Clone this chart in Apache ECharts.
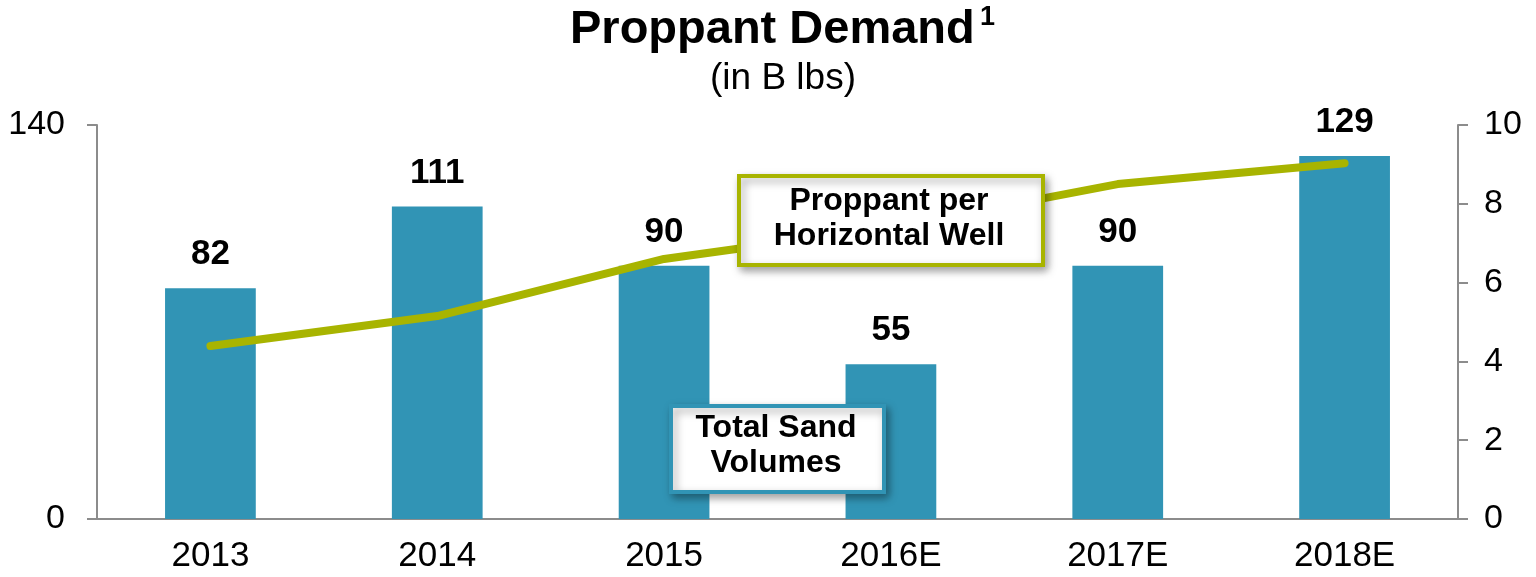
<!DOCTYPE html>
<html><head><meta charset="utf-8">
<script src="https://cdn.jsdelivr.net/npm/echarts@6/dist/echarts.min.js"></script>
<style>html,body{margin:0;padding:0;background:#fff}#c{width:1536px;height:577px}</style>
</head><body><div id="c"></div>
<script>
const categories = ['2013', '2014', '2015', '2016E', '2017E', '2018E'];
const sandVolumes = [82, 111, 90, 55, 90, 129];
const proppantPerWell = [4.39, 5.15, 6.6, 7.4, 8.5, 9.03];
const leftTicks = [0, 140];
const rightTicks = [0, 2, 4, 6, 8, 10];

const FONT = '"Liberation Sans", Arial, sans-serif';
const BAR = '#3194B5';
const LINE = '#A8B400';
const AXIS = '#8C8C8C';

const chart = echarts.init(document.getElementById('c'), null, {renderer: 'canvas'});
chart.setOption({
  animation: false,
  backgroundColor: '#fff',
  textStyle: {fontFamily: FONT},
  grid: {left: 97, right: 78, top: 125, bottom: 58, containLabel: false},
  xAxis: {
    type: 'category', data: categories,
    axisLine: {lineStyle: {color: AXIS, width: 2}},
    axisTick: {show: false},
    axisLabel: {color: '#000', fontSize: 35, fontFamily: FONT, margin: 20}
  },
  yAxis: [
    {type: 'value', min: leftTicks[0], max: leftTicks[leftTicks.length - 1], interval: 140,
     position: 'left',
     axisLine: {show: true, lineStyle: {color: AXIS, width: 2}},
     axisTick: {show: true, length: 10, lineStyle: {color: AXIS, width: 2}},
     splitLine: {show: false},
     axisLabel: {color: '#000', fontSize: 34, fontFamily: FONT, margin: 32}},
    {type: 'value', min: rightTicks[0], max: rightTicks[rightTicks.length - 1], interval: 2,
     position: 'right',
     axisLine: {show: true, lineStyle: {color: AXIS, width: 2}},
     axisTick: {show: true, length: 10, lineStyle: {color: AXIS, width: 2}},
     splitLine: {show: false},
     axisLabel: {color: '#000', fontSize: 34, fontFamily: FONT, margin: 26}}
  ],
  series: [
    {type: 'bar', data: sandVolumes, yAxisIndex: 0, barWidth: '40%',
     itemStyle: {color: BAR},
     label: {show: true, position: 'top', distance: 16, color: '#000',
             fontSize: 35, fontWeight: 'bold', fontFamily: FONT},
     z: 2},
    {type: 'line', data: proppantPerWell, yAxisIndex: 1,
     symbol: 'none', lineStyle: {color: LINE, width: 8, cap: 'round', join: 'round'},
     z: 3}
  ],
  graphic: [
    {type: 'text', left: 570, top: 7, z: 100,
     style: {text: 'Proppant Demand', fill: '#000', font: 'bold 47px ' + FONT}},
    {type: 'text', left: 980, top: 4, z: 100,
     style: {text: '1', fill: '#000', font: 'bold 27px ' + FONT}},
    {type: 'text', left: 710, top: 60, z: 100,
     style: {text: '(in B lbs)', fill: '#000', font: '37px ' + FONT}},
    {type: 'rect', left: 737, top: 174, z: 100, zlevel: 1,
     shape: {x: 0, y: 0, width: 304, height: 89},
     style: {fill: '#fff', stroke: LINE, lineWidth: 4,
             shadowBlur: 8, shadowOffsetX: 3, shadowOffsetY: 4, shadowColor: 'rgba(0,0,0,0.35)'}},
    {type: 'text', x: 889, y: 219, z: 101, zlevel: 1,
     style: {text: 'Proppant per\nHorizontal Well', fill: '#000', align: 'center', verticalAlign: 'middle',
             font: 'bold 32px ' + FONT, lineHeight: 35}},
    {type: 'rect', left: 669, top: 404, z: 100, zlevel: 1,
     shape: {x: 0, y: 0, width: 213, height: 86},
     style: {fill: '#fff', stroke: BAR, lineWidth: 4,
             shadowBlur: 8, shadowOffsetX: 3, shadowOffsetY: 4, shadowColor: 'rgba(0,0,0,0.35)'}},
    {type: 'text', x: 776, y: 446, z: 101, zlevel: 1,
     style: {text: 'Total Sand\nVolumes', fill: '#000', align: 'center', verticalAlign: 'middle',
             font: 'bold 32px ' + FONT, lineHeight: 35}}
  ]
});
</script></body></html>
